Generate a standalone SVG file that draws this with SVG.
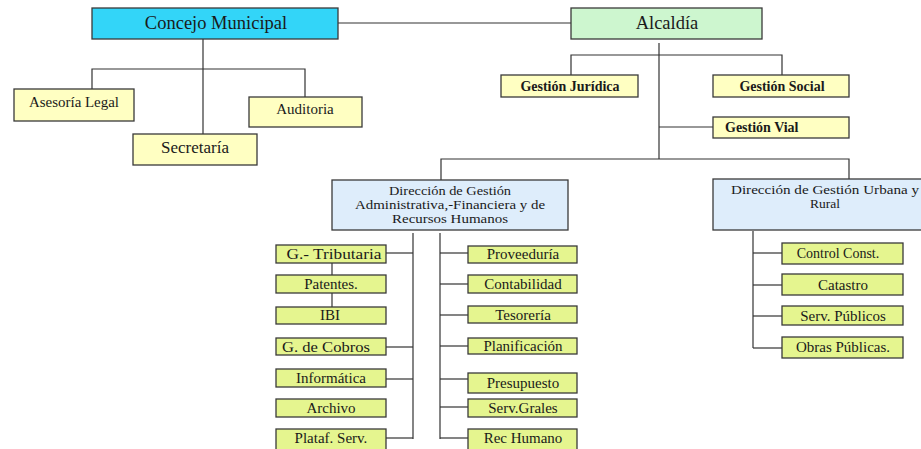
<svg xmlns="http://www.w3.org/2000/svg" width="921" height="449" viewBox="0 0 921 449" font-family="'Liberation Serif','DejaVu Serif','Times New Roman',serif">
<style>
.b{stroke:#3a3a3a;stroke-width:1.3}
.y{fill:#ffffc2}
.g{fill:#e5f58f}
.bl{fill:#deedfb}
text{font-family:'Liberation Serif','DejaVu Serif','Times New Roman',serif;fill:#1a1a1a;text-anchor:middle}
.t14{font-size:13.5px}
.t15{font-size:15px}
.t18{font-size:18.5px}
.bd{font-weight:bold;font-size:14px}
.c line,.c path{stroke:#333;stroke-width:1.2;fill:none}
</style>
<rect width="921" height="449" fill="#fff"/>
<g class="c">
<line x1="338" y1="23" x2="571" y2="23"/>
<line x1="203" y1="39" x2="203" y2="134"/>
<path d="M92 89V69H305V97"/>
<line x1="659" y1="43" x2="659" y2="159"/>
<path d="M571 75V55H782V75"/>
<line x1="659" y1="127" x2="713" y2="127"/>
<path d="M441 180V159H849V179"/>
<line x1="413" y1="233" x2="413" y2="439"/>
<line x1="440" y1="233" x2="440" y2="439"/>
<line x1="386" y1="253" x2="413" y2="253"/>
<line x1="332" y1="263" x2="332" y2="275"/>
<line x1="332" y1="293" x2="332" y2="307"/>
<line x1="386" y1="347" x2="413" y2="347"/>
<line x1="386" y1="379" x2="413" y2="379"/>
<line x1="386" y1="438" x2="413" y2="438"/>
<line x1="440" y1="253" x2="468" y2="253"/>
<line x1="440" y1="284" x2="468" y2="284"/>
<line x1="440" y1="315" x2="468" y2="315"/>
<line x1="440" y1="346" x2="468" y2="346"/>
<line x1="440" y1="379" x2="468" y2="379"/>
<line x1="440" y1="407" x2="468" y2="407"/>
<line x1="440" y1="438" x2="468" y2="438"/>
<line x1="753" y1="231" x2="753" y2="348"/>
<line x1="753" y1="253" x2="782" y2="253"/>
<line x1="753" y1="285" x2="782" y2="285"/>
<line x1="753" y1="316" x2="782" y2="316"/>
<line x1="753" y1="348" x2="782" y2="348"/>
</g>
<g id="concejo"><rect class="b" x="92" y="8" width="246" height="31" fill="#33d5f8"/><text class="t18" x="216" y="29">Concejo Municipal</text></g>
<g id="alcaldia"><rect class="b" x="571" y="8" width="191" height="31" fill="#cdf6cf"/><text class="t18" x="667" y="29">Alcaldía</text></g>
<g id="asesoria"><rect class="b y" x="14" y="89" width="120" height="32"/><text x="74" y="107" style="font-size:14.5px" textLength="90" lengthAdjust="spacingAndGlyphs">Asesoría Legal</text></g>
<g id="auditoria"><rect class="b y" x="249" y="97" width="113" height="30"/><text x="305" y="114" style="font-size:15px">Auditoria</text></g>
<g id="secretaria"><rect class="b y" x="133" y="134" width="124" height="31"/><text x="195" y="153" style="font-size:17px">Secretaría</text></g>
<g id="juridica"><rect class="b y" x="501" y="75" width="137" height="22"/><text class="bd" x="570" y="91">Gestión Jurídica</text></g>
<g id="social"><rect class="b y" x="713" y="75" width="136" height="22"/><text class="bd" x="782" y="91">Gestión Social</text></g>
<g id="vial"><rect class="b y" x="713" y="117" width="136" height="21"/><text class="bd" x="725" y="132" style="text-anchor:start">Gestión  Vial</text></g>
<g id="dir-adm"><rect class="b bl" x="332" y="180" width="236" height="50"/>
<text class="t14" x="450" y="195" textLength="122" lengthAdjust="spacingAndGlyphs">Dirección de Gestión</text>
<text class="t14" x="450" y="209" textLength="190" lengthAdjust="spacingAndGlyphs">Administrativa,-Financiera y de</text>
<text class="t14" x="450" y="223" textLength="116" lengthAdjust="spacingAndGlyphs">Recursos Humanos</text></g>
<g id="dir-urb"><rect class="b bl" x="713" y="179" width="220" height="51"/>
<text class="t14" x="825" y="194" textLength="188" lengthAdjust="spacingAndGlyphs">Dirección de Gestión Urbana y</text>
<text class="t14" x="825" y="208">Rural</text></g>
<g id="tributaria"><rect class="b g" x="276" y="245" width="110" height="18"/><text class="t15" x="334" y="259" textLength="95" lengthAdjust="spacingAndGlyphs">G.- Tributaria</text></g>
<g id="patentes"><rect class="b g" x="276" y="275" width="110" height="18"/><text class="t15" x="331" y="289">Patentes.</text></g>
<g id="ibi"><rect class="b g" x="276" y="307" width="110" height="17"/><text class="t15" x="330" y="320">IBI</text></g>
<g id="cobros"><rect class="b g" x="276" y="338" width="110" height="17"/><text class="t15" x="326" y="352" textLength="88" lengthAdjust="spacingAndGlyphs">G. de Cobros</text></g>
<g id="informatica"><rect class="b g" x="276" y="369" width="110" height="18"/><text class="t15" x="331" y="383">Informática</text></g>
<g id="archivo"><rect class="b g" x="276" y="399" width="110" height="18"/><text class="t15" x="331" y="413">Archivo</text></g>
<g id="plataf"><rect class="b g" x="276" y="429" width="110" height="22"/><text class="t15" x="331" y="443">Plataf. Serv.</text></g>
<g id="proveeduria"><rect class="b g" x="468" y="246" width="109" height="17"/><text class="t15" x="523" y="259">Proveeduría</text></g>
<g id="contabilidad"><rect class="b g" x="468" y="275" width="109" height="18"/><text class="t15" x="523" y="289">Contabilidad</text></g>
<g id="tesoreria"><rect class="b g" x="468" y="306" width="109" height="17"/><text class="t15" x="523" y="320">Tesorería</text></g>
<g id="planificacion"><rect class="b g" x="468" y="338" width="109" height="16"/><text class="t15" x="523" y="351">Planificación</text></g>
<g id="presupuesto"><rect class="b g" x="468" y="373" width="109" height="20"/><text class="t15" x="523" y="388">Presupuesto</text></g>
<g id="servgrales"><rect class="b g" x="468" y="399" width="109" height="18"/><text class="t15" x="523" y="413">Serv.Grales</text></g>
<g id="rechumano"><rect class="b g" x="468" y="429" width="109" height="22"/><text class="t15" x="523" y="443">Rec Humano</text></g>
<g id="control"><rect class="b g" x="782" y="243" width="121" height="21"/><text x="838" y="258" style="font-size:14px">Control Const.</text></g>
<g id="catastro"><rect class="b g" x="782" y="274" width="121" height="21"/><text class="t15" x="843" y="290">Catastro</text></g>
<g id="servpub"><rect class="b g" x="782" y="306" width="121" height="19"/><text class="t15" x="843" y="321">Serv. Públicos</text></g>
<g id="obras"><rect class="b g" x="782" y="337" width="121" height="21"/><text class="t15" x="843" y="352">Obras Públicas.</text></g>
</svg>
